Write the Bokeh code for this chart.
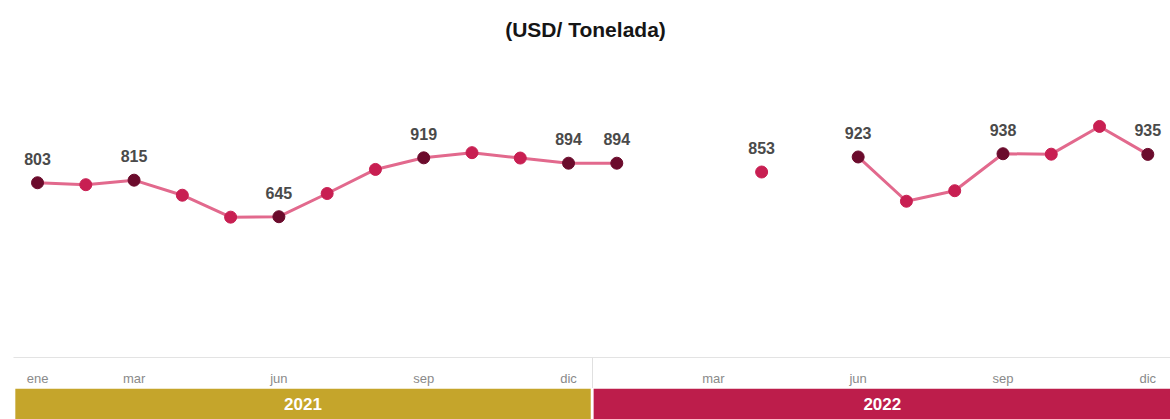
import numpy as np
from bokeh.plotting import figure
from bokeh.layouts import column
from bokeh.models import ColumnDataSource, Range1d, FixedTicker, Label
from bokeh.core.properties import value
from bokeh.embed import file_html
from bokeh.resources import INLINE

# ---- data ----
months = ["ene", "feb", "mar", "abr", "may", "jun", "jul", "ago", "sep", "oct", "nov", "dic"]
years = ["2021", "2022"]
price_2021 = [803, 794, 815, 745, 643, 645, 753, 865, 919, 943, 918, 894]
price_2022 = [894, np.nan, np.nan, 853, np.nan, 923, 717, 766, 938, 936, 1065, 935]
tick_months = ["ene", "mar", "jun", "sep", "dic"]
labeled_extra = [15]  # isolated point (abr 2022) also carries a label
title_text = "(USD/ Tonelada)"

FONT = "Liberation Sans"
LINE_C = "#e2698d"
DOT_C = "#c81f52"
DARK_C = "#6b0b2c"
YEAR_C = ["#c5a52b", "#bd1d4b"]

values = price_2021 + price_2022
n = len(values)
x = list(range(n))
mnames = [months[i % 12] for i in x]
is_tick = [m in tick_months for m in mnames]
colors = [DARK_C if t else DOT_C for t in is_tick]

src = ColumnDataSource(dict(x=x, y=values, c=colors))
lab_idx = [i for i in x if (not np.isnan(values[i])) and (is_tick[i] or i in labeled_extra)]
lab_src = ColumnDataSource(dict(x=lab_idx, y=[values[i] for i in lab_idx],
                                t=[str(int(values[i])) for i in lab_idx]))

W = 1170
H_TOP = 388
xr = Range1d(-0.767, n - 1 + 0.47)
yr = Range1d(-10, 1651)

p = figure(width=W, height=H_TOP, x_range=xr, y_range=yr,
           output_backend="svg", toolbar_location=None,
           min_border_left=0, min_border_right=0, min_border_top=0, min_border_bottom=31)
p.outline_line_color = None
p.xgrid.visible = False
p.ygrid.visible = False
p.yaxis.visible = False

frame_h = H_TOP - 31
title_y = yr.end - 29 / frame_h * (yr.end - yr.start)
p.add_layout(Label(x=(xr.start + xr.end) / 2, y=title_y, text=title_text,
                   text_font=FONT, text_font_size="21px", text_font_style="bold",
                   text_color="#151515", text_align="center", text_baseline="middle"))

p.line("x", "y", source=src, line_color=LINE_C, line_width=3)
p.scatter("x", "y", source=src, size=12, fill_color="c", line_color="c")
p.text("x", "y", text="t", source=lab_src, text_font=value(FONT), text_font_style="bold",
       text_font_size="16px", text_color="#4a4a4a", text_align="center",
       text_baseline="middle", y_offset=-24)

tick_pos = [i for i in x if is_tick[i] and not (i == 12)]
ticker = FixedTicker(ticks=tick_pos, minor_ticks=[11.5])
ax = p.xaxis[0]
ax.ticker = ticker
ax.bounds = (-0.5, xr.end)
ax.major_label_overrides = {i: mnames[i] for i in tick_pos}
ax.major_label_text_font = FONT
ax.major_label_text_font_size = "13px"
ax.major_label_text_color = "#8a8a8a"
ax.major_label_standoff = -18
ax.major_tick_line_color = None
ax.minor_tick_in = 0
ax.minor_tick_out = 31
ax.minor_tick_line_color = "#e0e0e0"
ax.axis_line_color = "#e3e3e3"

# ---- year bands ----
b = figure(width=W, height=419 - H_TOP, x_range=xr, y_range=Range1d(0, 1),
           output_backend="svg", toolbar_location=None,
           min_border_left=0, min_border_right=0, min_border_top=0, min_border_bottom=0)
b.axis.visible = False
b.grid.visible = False
b.outline_line_color = None
lefts = [12 * k - 0.46 if k == 0 else 12 * k - 0.48 for k in range(len(years))]
rights = [12 * k + 11.46 if k == 0 else 12 * k + 12.0 for k in range(len(years))]
bsrc = ColumnDataSource(dict(l=lefts, r=rights, c=YEAR_C, t=years,
                             m=[12 * k + 5.5 for k in range(len(years))]))
b.quad(left="l", right="r", bottom=0, top=1, fill_color="c", line_color=None, source=bsrc)
b.text("m", 0.5, text="t", source=bsrc, text_font=value(FONT), text_font_style="bold",
       text_font_size="17px", text_color="white", text_align="center", text_baseline="middle")

lay = column(p, b, spacing=0)
open("out.html", "w").write(file_html(lay, INLINE))
